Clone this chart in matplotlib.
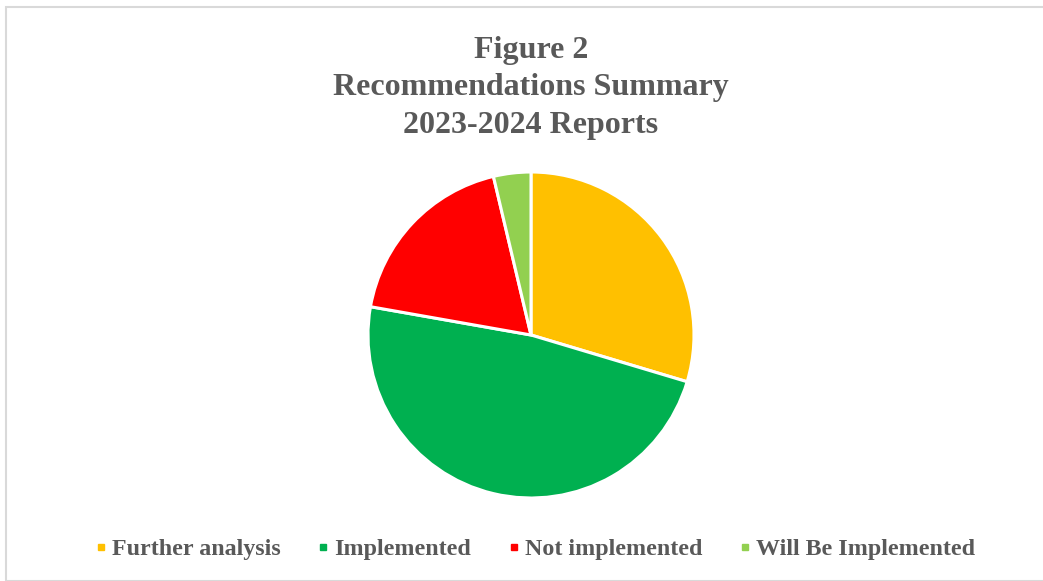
import matplotlib.pyplot as plt
from matplotlib.lines import Line2D
from matplotlib.patches import Rectangle

categories = ["Further analysis", "Implemented", "Not implemented", "Will Be Implemented"]
counts = [8, 13, 5, 1]
colors = ["#FFC000", "#00B050", "#FF0000", "#92D050"]

plt.rcParams['font.family'] = ['Liberation Serif', 'DejaVu Serif']
text_color = "#595959"

fig = plt.figure(figsize=(10.43, 5.81), dpi=100)

# chart area frame
fig.patches.append(Rectangle((6 / 1043, 0), 1.0, 1 - 7 / 581, transform=fig.transFigure,
                             fill=False, edgecolor="#d9d9d9", linewidth=1.5))

ax = fig.add_axes([368 / 1043, 83 / 581, 326 / 1043, 326 / 581])
ax.pie(counts, colors=colors, startangle=90, counterclock=False,
       wedgeprops=dict(edgecolor="white", linewidth=2.2))
ax.set_xlim(-1.0, 1.0)
ax.set_ylim(-1.0, 1.0)
ax.set_aspect("equal")
ax.axis("off")

fig.text(531 / 1043, 1 - 88 / 581, "Figure 2\nRecommendations Summary\n2023-2024 Reports",
         ha="center", va="center", fontsize=23, fontweight="bold", color=text_color,
         linespacing=1.38)

handles = [Line2D([], [], marker="s", linestyle="none", markersize=5,
                  markerfacecolor=c, markeredgecolor=c) for c in colors]
fig.legend(handles, categories, loc="center", bbox_to_anchor=(535 / 1043, 1 - 549 / 581),
           ncol=4, frameon=False, handlelength=0.5, handletextpad=0.22, columnspacing=1.52,
           prop=dict(size=17.3, weight="bold"), labelcolor=text_color)

fig.savefig("out.png", dpi=100)
